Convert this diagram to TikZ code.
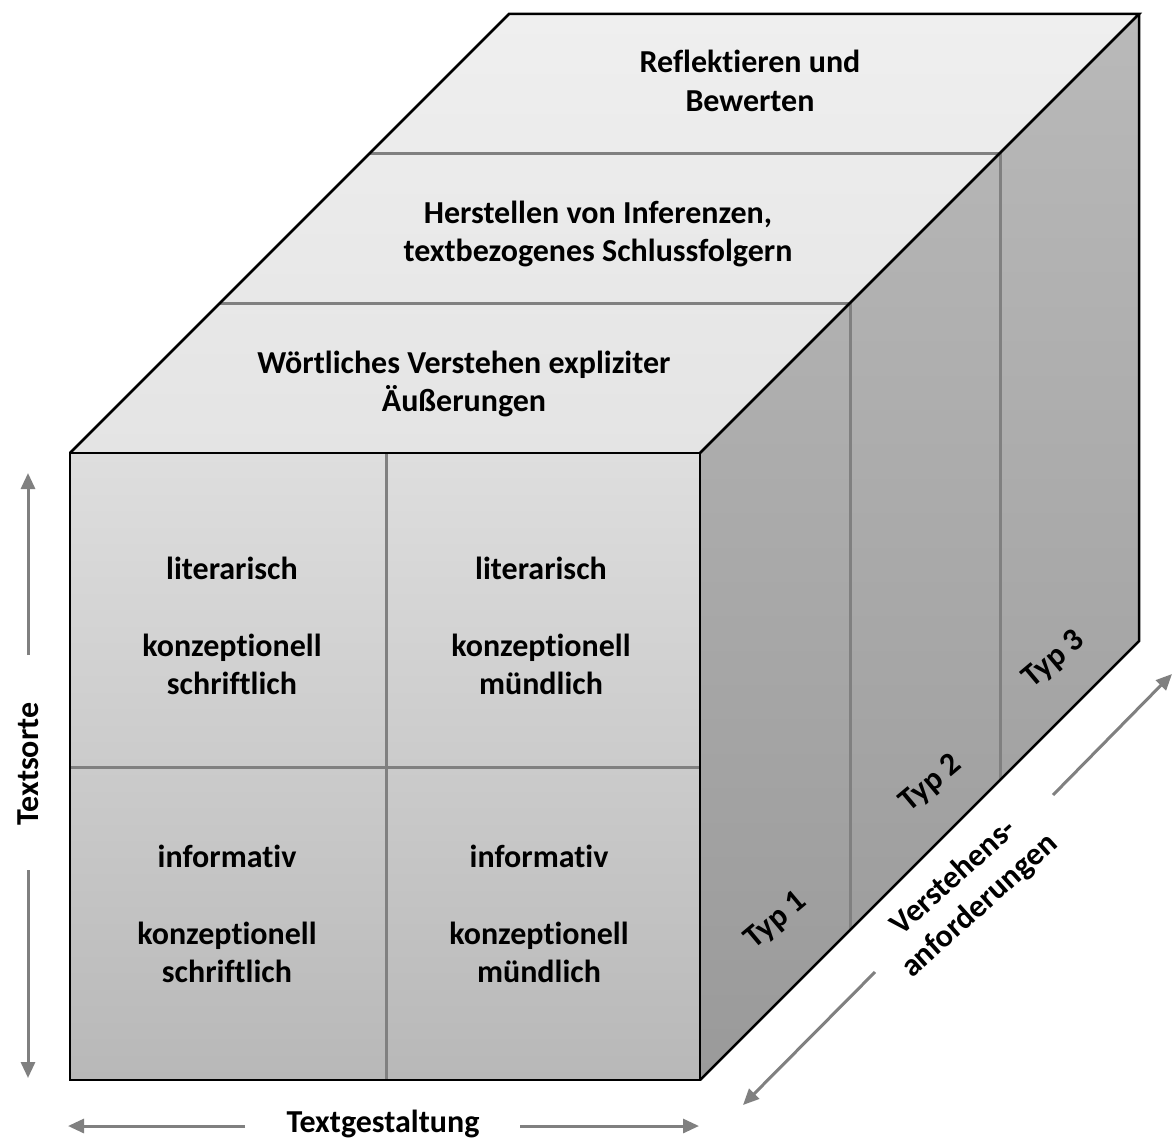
\documentclass[tikz,border=0pt]{standalone}
\usepackage{fontspec}
\setmainfont{Carlito}[Ligatures={NoCommon}]
\usetikzlibrary{arrows.meta}
\definecolor{topA}{HTML}{EFEFEF}
\definecolor{topB}{HTML}{E4E4E4}
\definecolor{frontA}{HTML}{DEDEDE}
\definecolor{frontB}{HTML}{B8B8B8}
\definecolor{rightA}{HTML}{B9B9B9}
\definecolor{rightB}{HTML}{9A9A9A}
\definecolor{divgray}{HTML}{808080}
\definecolor{arrgray}{HTML}{808080}
\begin{document}
\begin{tikzpicture}[x=1pt,y=-1pt,
  lbl/.style={font=\fontsize{32}{38.5}\selectfont\bfseries, align=center, inner sep=0pt, text=black},
  cubeedge/.style={draw=black, line width=2.5pt, line join=miter},
  divider/.style={draw=divgray, line width=3pt},
  axisarrow/.style={draw=arrgray, line width=3pt, -{Triangle[length=16pt,width=14pt,fill=arrgray]}}]
\useasboundingbox[fill=white] (0,0) rectangle (1174,1140);
% cube corners
\coordinate (A) at (70,453);
\coordinate (B) at (700,453);
\coordinate (C) at (700,1080);
\coordinate (D) at (70,1080);
\coordinate (E) at (509,14);
\coordinate (F) at (1139,14);
\coordinate (G) at (1139,641);
% faces
\shade[top color=frontA,bottom color=frontB] (A) rectangle (C);
\shade[top color=topA,bottom color=topB] (A) -- (E) -- (F) -- (B) -- cycle;
\shade[top color=rightA,bottom color=rightB] (B) -- (F) -- (G) -- (C) -- cycle;
% dividers
\coordinate (t1l) at (220,303); \coordinate (t1r) at (850,303); \coordinate (t1b) at (850,930);
\coordinate (t2l) at (370,153); \coordinate (t2r) at (1000,153); \coordinate (t2b) at (1000,780);
\coordinate (fmT) at (386,453); \coordinate (fmB) at (386,1080);
\coordinate (fhL) at (70,767); \coordinate (fhR) at (700,767);
\draw[divider] (t1l) -- (t1r) -- (t1b);
\draw[divider] (t2l) -- (t2r) -- (t2b);
\draw[divider] (fmT) -- (fmB);
\draw[divider] (fhL) -- (fhR);
% outlines
\draw[cubeedge] (A) rectangle (C);
\draw[cubeedge] (A) -- (E) -- (F) -- (B);
\draw[cubeedge] (F) -- (G) -- (C);
% top face labels
\node[lbl] (r1) at (750,81) {Reflektieren und\\Bewerten};
\node[lbl] (r2) at (598,234) {Herstellen von Inferenzen,\\textbezogenes Schlussfolgern};
\node[lbl] (r3) at (464,384) {Wörtliches Verstehen expliziter\\Äußerungen};
% front labels
\node[lbl] (c11) at (232,626) {literarisch\\[38.5pt]konzeptionell\\schriftlich};
\node[lbl] (c12) at (541,626) {literarisch\\[38.5pt]konzeptionell\\mündlich};
\node[lbl] (c21) at (227,914) {informativ\\[38.5pt]konzeptionell\\schriftlich};
\node[lbl] (c22) at (539,914) {informativ\\[38.5pt]konzeptionell\\mündlich};
% right face labels
\node[lbl, rotate=40] (typ1) at (776,921) {Typ 1};
\node[lbl, rotate=40] (typ2) at (931,784) {Typ 2};
\node[lbl, rotate=40] (typ3) at (1054,660) {Typ 3};
% axes
\node[lbl, rotate=90] (ts) at (28,764) {Textsorte};
\coordinate (tsTop) at (28,473); \coordinate (tsTopS) at (28,655);
\coordinate (tsBot) at (28,1078); \coordinate (tsBotS) at (28,870);
\draw[axisarrow] (tsTopS) -- (tsTop);
\draw[axisarrow] (tsBotS) -- (tsBot);
\node[lbl] (tg) at (383,1124) {Textgestaltung};
\coordinate (tgL) at (68,1126); \coordinate (tgLS) at (245,1126);
\coordinate (tgR) at (699,1126); \coordinate (tgRS) at (520,1126);
\draw[axisarrow] (tgLS) -- (tgL);
\draw[axisarrow] (tgRS) -- (tgR);
\node[lbl, rotate=42] (va) at (967,892) {Verstehens-\\anforderungen};
\coordinate (vaLow) at (743,1105); \coordinate (vaLowS) at (875,972);
\coordinate (vaHigh) at (1172,674); \coordinate (vaHighS) at (1053,795);
\draw[axisarrow] (vaLowS) -- (vaLow);
\draw[axisarrow] (vaHighS) -- (vaHigh);
\end{tikzpicture}
\end{document}
